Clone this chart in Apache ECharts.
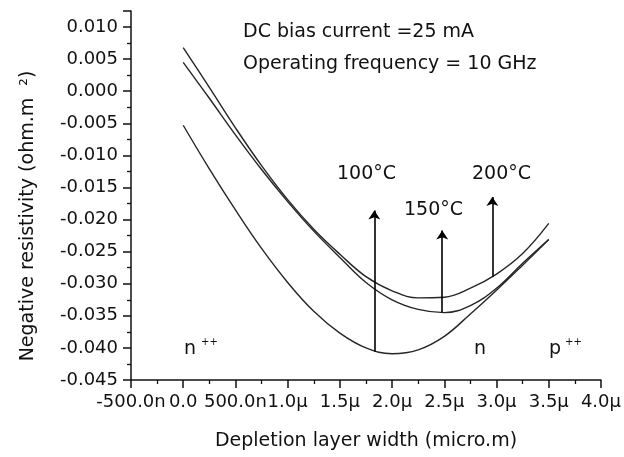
<!DOCTYPE html>
<html>
<head>
<meta charset="utf-8">
<script src="https://cdn.jsdelivr.net/npm/echarts@6/dist/echarts.min.js"></script>
<style>
html, body { margin: 0; padding: 0; background: #fff; }
#container { width: 624px; height: 457px; }
</style>
</head>
<body>
<div id="container"></div>
<script>
// depletion layer width, micro.m
var widths = [0, 0.25, 0.5, 0.75, 1.0, 1.25, 1.5, 1.75, 2.0, 2.25, 2.5, 2.75, 3.0, 3.25, 3.5];
// negative resistivity, ohm.m^2
var curveTop = [0.0068, 0.0006, -0.0057, -0.0116, -0.0169, -0.0215, -0.0254, -0.0289, -0.0311, -0.0322, -0.0321, -0.0307, -0.0285, -0.0253, -0.0206];
var curveMid = [0.0045, -0.0011, -0.0068, -0.0122, -0.0172, -0.0218, -0.0259, -0.0298, -0.0325, -0.0340, -0.0345, -0.0334, -0.0307, -0.0268, -0.0231];
var curveLow = [-0.0053, -0.0121, -0.0185, -0.0245, -0.0298, -0.0343, -0.0377, -0.0400, -0.0409, -0.0403, -0.0382, -0.0347, -0.0310, -0.0271, -0.0231];

var xTickLabels = ['-500.0n', '0.0', '500.0n', '1.0\u03bc', '1.5\u03bc', '2.0\u03bc', '2.5\u03bc', '3.0\u03bc', '3.5\u03bc', '4.0\u03bc'];

// arrows: x position, from value, to value
var arrowX = [1.83, 2.48, 2.96];
var arrowFrom = [-0.0406, -0.0345, -0.0289];
var arrowTo = [-0.0186, -0.0217, -0.0165];

var font = 'DejaVu Sans';
var ink = '#111';

function pairs(ys) {
    return widths.map(function (x, i) { return [x, ys[i]]; });
}

var arrowLines = arrowX.map(function (x, i) {
    return [{ coord: [x, arrowFrom[i]] }, { coord: [x, arrowTo[i]] }];
});

var dom = document.getElementById('container');
var myChart = echarts.init(dom, null, { renderer: 'canvas' });

var lineStyle = { color: '#262626', width: 1.4 };

var option = {
    animation: false,
    grid: { left: 131, right: 22, top: 11, bottom: 77 },
    xAxis: {
        type: 'value',
        min: -0.5,
        max: 4.0,
        interval: 0.5,
        name: 'Depletion layer width (micro.m)',
        nameLocation: 'middle',
        nameGap: 52,
        nameTextStyle: { fontFamily: font, fontSize: 19, color: ink },
        axisLine: { onZero: false, lineStyle: { color: ink, width: 1.5 } },
        axisTick: { length: 8, lineStyle: { color: ink, width: 1.5 } },
        minorTick: { show: true, splitNumber: 2, length: 4, lineStyle: { color: ink, width: 1.3 } },
        splitLine: { show: false },
        axisLabel: {
            interval: 0,
            margin: 13,
            fontFamily: font,
            fontSize: 18,
            color: ink,
            formatter: function (v) {
                var k = Math.round((v + 0.5) / 0.5);
                return xTickLabels[k] || '';
            }
        }
    },
    yAxis: {
        type: 'value',
        min: -0.045,
        max: 0.0125,
        interval: 0.005,
        axisLine: { show: true, onZero: false, lineStyle: { color: ink, width: 1.5 } },
        axisTick: { show: true, length: 8, lineStyle: { color: ink, width: 1.5 } },
        minorTick: { show: true, splitNumber: 2, length: 4, lineStyle: { color: ink, width: 1.3 } },
        splitLine: { show: false },
        axisLabel: {
            margin: 13,
            fontFamily: font,
            fontSize: 18,
            color: ink,
            formatter: function (v) {
                if (Math.abs(v / 0.005 - Math.round(v / 0.005)) > 1e-6) return '';
                return (Math.round(v * 1000) / 1000).toFixed(3);
            }
        }
    },
    series: [
        { type: 'line', data: pairs(curveTop), smooth: 0.4, showSymbol: false, lineStyle: lineStyle },
        { type: 'line', data: pairs(curveMid), smooth: 0.4, showSymbol: false, lineStyle: lineStyle },
        {
            type: 'line', data: pairs(curveLow), smooth: 0.4, showSymbol: false, lineStyle: lineStyle,
            markLine: {
                silent: true,
                symbol: ['none', 'arrow'],
                symbolSize: 9,
                label: { show: false },
                lineStyle: { color: '#000', width: 1.6, type: 'solid' },
                data: arrowLines
            }
        }
    ],
    graphic: [
        { type: 'text', left: 243, top: 23, style: { text: 'DC bias current =25 mA', font: '19px "DejaVu Sans"', fill: ink } },
        { type: 'text', left: 243, top: 55, style: { text: 'Operating frequency = 10 GHz', font: '19px "DejaVu Sans"', fill: ink } },
        { type: 'text', left: 337, top: 165, style: { text: '100\u00b0C', font: '19px "DejaVu Sans"', fill: ink } },
        { type: 'text', left: 404, top: 201, style: { text: '150\u00b0C', font: '19px "DejaVu Sans"', fill: ink } },
        { type: 'text', left: 472, top: 165, style: { text: '200\u00b0C', font: '19px "DejaVu Sans"', fill: ink } },
        { type: 'text', left: 184, top: 340, style: { text: 'n', font: '19px "DejaVu Sans"', fill: ink } },
        { type: 'text', left: 201, top: 337, style: { text: '++', font: '10px "DejaVu Sans"', fill: ink } },
        { type: 'text', left: 474, top: 340, style: { text: 'n', font: '19px "DejaVu Sans"', fill: ink } },
        { type: 'text', left: 549, top: 340, style: { text: 'p', font: '19px "DejaVu Sans"', fill: ink } },
        { type: 'text', left: 565, top: 337, style: { text: '++', font: '10px "DejaVu Sans"', fill: ink } },
        {
            type: 'text', x: 28, y: 216, rotation: Math.PI / 2,
            style: {
                text: 'Negative resistivity (ohm.m  \u00b2)',
                font: '19px "DejaVu Sans"', fill: ink,
                align: 'center', verticalAlign: 'middle'
            }
        }
    ]
};

if (option && typeof option === 'object') {
    myChart.setOption(option);
}

window.addEventListener('resize', myChart.resize);
</script>
</body>
</html>
